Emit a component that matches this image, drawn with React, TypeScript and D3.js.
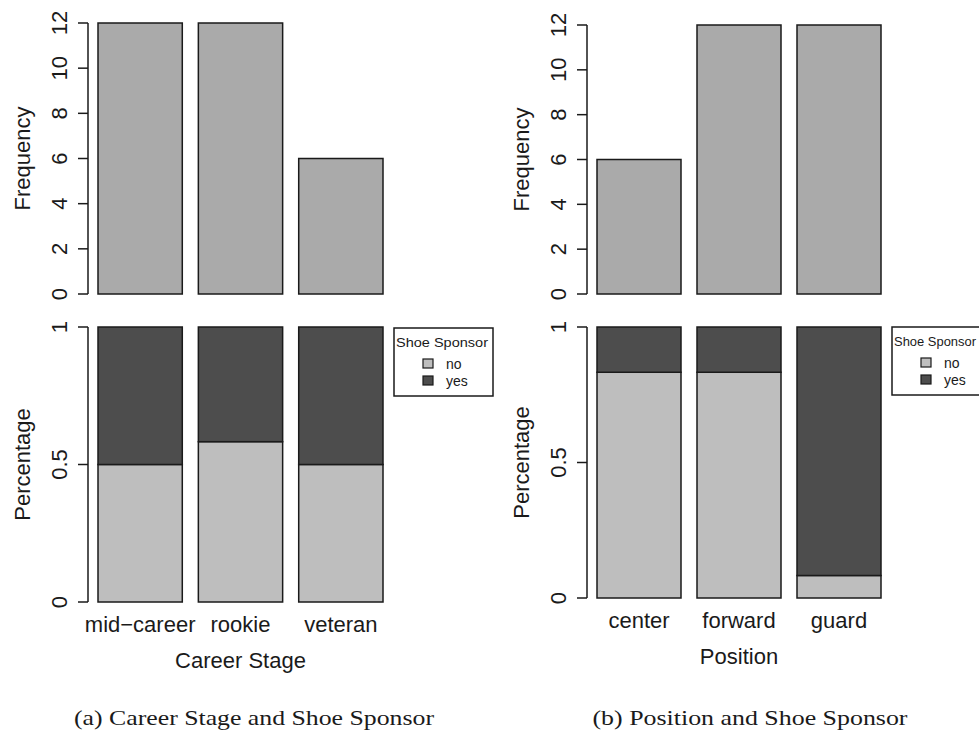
import * as d3 from 'd3';

// data
const careerStages = ['mid\u2212career', 'rookie', 'veteran'];
const careerFreq = [12, 12, 6];
const careerNoShare = [0.5, 0.583, 0.5];

const positions = ['center', 'forward', 'guard'];
const positionFreq = [6, 12, 12];
const positionNoShare = [0.833, 0.833, 0.083];

const freqTicks = [0, 2, 4, 6, 8, 10, 12];
const pctTicks = [0, 0.5, 1];
const pctTickLabels = ['0', '0.5', '1'];
const sponsorKeys = ['no', 'yes'];

const SANS = '"Liberation Sans", Arial, Helvetica, sans-serif';
const SERIF = '"Liberation Serif", "Times New Roman", serif';
const INK = '#1a1a1a';
const FREQ_FILL = '#aaaaaa';
const sponsorColor = d3.scaleOrdinal<string, string>().domain(sponsorKeys).range(['#bebebe', '#4d4d4d']);

interface AxisProps {
  x: number;
  y: d3.ScaleLinear<number, number>;
  ticks: number[];
  labels: string[];
  title: string;
}

// R style left axis: line between end ticks, outward ticks, rotated labels
function LeftAxis({ x, y, ticks, labels, title }: AxisProps) {
  const y0 = y(ticks[0]);
  const y1 = y(ticks[ticks.length - 1]);
  return (
    <g stroke={INK} fill={INK}>
      <line x1={x} x2={x} y1={y0} y2={y1} strokeWidth={1.5} />
      {ticks.map((t, i) => (
        <g key={t}>
          <line x1={x - 10} x2={x} y1={y(t)} y2={y(t)} strokeWidth={1.5} />
          <text
            transform={`translate(${x - 21},${y(t)}) rotate(-90)`}
            textAnchor="middle"
            stroke="none"
            fontFamily={SANS}
            fontSize={22}
          >
            {labels[i]}
          </text>
        </g>
      ))}
      <text
        transform={`translate(${x - 58},${(y0 + y1) / 2}) rotate(-90)`}
        textAnchor="middle"
        stroke="none"
        fontFamily={SANS}
        fontSize={22}
      >
        {title}
      </text>
    </g>
  );
}

interface PanelProps {
  cats: string[];
  freq: number[];
  noShare: number[];
  axisX: number;
  barLeft: number;
  barRight: number;
  topY: [number, number];
  botY: [number, number];
  xTitle: string;
  legendX: number;
  legendY: number;
  legendTitleWidth: number;
}

function Panel({ cats, freq, noShare, axisX, barLeft, barRight, topY, botY, xTitle, legendX, legendY, legendTitleWidth }: PanelProps) {
  const x = d3.scaleBand<string>().domain(cats).range([barLeft, barRight]).paddingInner(0.16).paddingOuter(0);
  const yF = d3.scaleLinear().domain([0, 12]).range(topY);
  const yP = d3.scaleLinear().domain([0, 1]).range(botY);

  const rows = cats.map((c, i) => ({ cat: c, no: noShare[i], yes: 1 - noShare[i] }));
  const stacked = d3.stack<{ cat: string; no: number; yes: number }>().keys(sponsorKeys)(rows as any);

  const cx = (barLeft + barRight) / 2;
  return (
    <g>
      {/* frequency bars */}
      {cats.map((c, i) => (
        <rect
          key={c}
          x={x(c)}
          y={yF(freq[i])}
          width={x.bandwidth()}
          height={yF(0) - yF(freq[i])}
          fill={FREQ_FILL}
          stroke={INK}
          strokeWidth={1.5}
        />
      ))}
      <LeftAxis x={axisX} y={yF} ticks={freqTicks} labels={freqTicks.map(String)} title="Frequency" />

      {/* stacked share bars */}
      {stacked.map((layer) =>
        layer.map((d, i) => (
          <rect
            key={layer.key + cats[i]}
            x={x(cats[i])}
            y={yP(d[1])}
            width={x.bandwidth()}
            height={yP(d[0]) - yP(d[1])}
            fill={sponsorColor(layer.key)}
            stroke={INK}
            strokeWidth={1.5}
          />
        ))
      )}
      <LeftAxis x={axisX} y={yP} ticks={pctTicks} labels={pctTickLabels} title="Percentage" />

      {cats.map((c) => (
        <text
          key={c}
          x={(x(c) as number) + x.bandwidth() / 2}
          y={botY[0] + 30}
          textAnchor="middle"
          fontFamily={SANS}
          fontSize={22}
          fill={INK}
        >
          {c}
        </text>
      ))}
      <text x={cx} y={botY[0] + 66} textAnchor="middle" fontFamily={SANS} fontSize={22} fill={INK}>
        {xTitle}
      </text>

      {/* legend */}
      <g transform={`translate(${legendX},${legendY})`} fontFamily={SANS} fill={INK}>
        <rect x={0} y={0} width={99} height={68} fill="#fff" stroke={INK} strokeWidth={1.5} />
        <text x={2} y={19} fontSize={13.5} textLength={legendTitleWidth} lengthAdjust="spacingAndGlyphs">
          Shoe Sponsor
        </text>
        {sponsorKeys.map((k, i) => (
          <g key={k} transform={`translate(29,${31 + i * 17})`}>
            <rect x={0} y={0} width={10} height={9} fill={sponsorColor(k)} stroke={INK} strokeWidth={1.2} />
            <text x={23} y={10} fontSize={14}>
              {k}
            </text>
          </g>
        ))}
      </g>
    </g>
  );
}

export default function App() {
  return (
    <div style={{ position: 'absolute', left: 0, top: 0 }}>
      <svg width={979} height={733} style={{ display: 'block', background: '#fff', overflow: 'hidden' }}>
        <Panel
          cats={careerStages}
          freq={careerFreq}
          noShare={careerNoShare}
          axisX={88}
          barLeft={98}
          barRight={383}
          topY={[294, 23]}
          botY={[602, 327]}
          xTitle="Career Stage"
          legendX={394}
          legendY={328}
          legendTitleWidth={92}
        />
        <Panel
          cats={positions}
          freq={positionFreq}
          noShare={positionNoShare}
          axisX={587}
          barLeft={597}
          barRight={881}
          topY={[294, 25]}
          botY={[598, 327]}
          xTitle="Position"
          legendX={892}
          legendY={327}
          legendTitleWidth={82}
        />
        <text x={254} y={725} textAnchor="middle" fontFamily={SERIF} fontSize={22} fill={INK} textLength={360} lengthAdjust="spacingAndGlyphs">
          (a) Career Stage and Shoe Sponsor
        </text>
        <text x={750} y={725} textAnchor="middle" fontFamily={SERIF} fontSize={22} fill={INK} textLength={315} lengthAdjust="spacingAndGlyphs">
          (b) Position and Shoe Sponsor
        </text>
      </svg>
    </div>
  );
}
